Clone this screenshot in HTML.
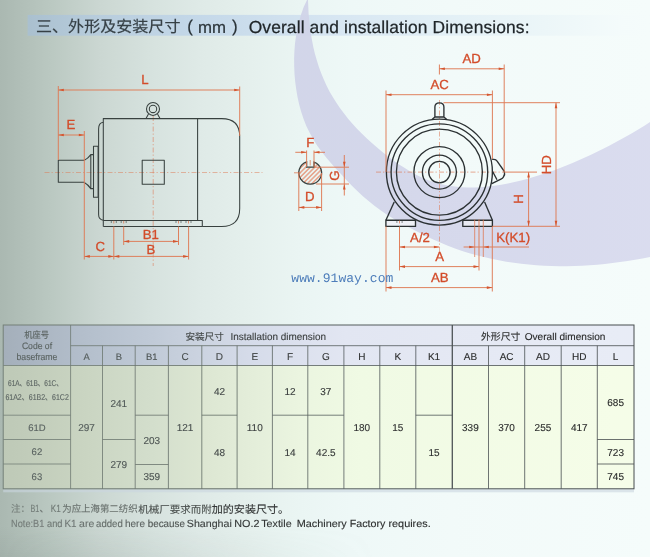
<!DOCTYPE html>
<html lang="zh"><head><meta charset="utf-8"><title>Overall and installation Dimensions</title>
<style>html,body{margin:0;padding:0;background:#e9f1f0}svg{display:block;opacity:0.999;filter:blur(0.4px)}text{text-rendering:geometricPrecision}</style></head>
<body>
<svg width="650" height="557" viewBox="0 0 650 557">
<defs>
<linearGradient id="bg" x1="0" y1="0" x2="650" y2="0" gradientUnits="userSpaceOnUse">
<stop offset="0.0000" stop-color="#aab8b1"/>
<stop offset="0.0769" stop-color="#bac8c1"/>
<stop offset="0.1538" stop-color="#cbd7d2"/>
<stop offset="0.2308" stop-color="#d6e2de"/>
<stop offset="0.3077" stop-color="#dfeae7"/>
<stop offset="0.3846" stop-color="#e5f0ed"/>
<stop offset="0.4615" stop-color="#eaf5f3"/>
<stop offset="0.5385" stop-color="#eef8f7"/>
<stop offset="0.6923" stop-color="#f2faf9"/>
<stop offset="1.0000" stop-color="#f5fcfb"/>
</linearGradient>
<linearGradient id="topl" x1="0" y1="0" x2="0" y2="1">
<stop offset="0" stop-color="#fff" stop-opacity="0.55"/>
<stop offset="1" stop-color="#fff" stop-opacity="0"/>
</linearGradient>
<linearGradient id="lmask" x1="0" y1="0" x2="1" y2="0">
<stop offset="0" stop-color="#fff" stop-opacity="1"/>
<stop offset="1" stop-color="#fff" stop-opacity="0"/>
</linearGradient>
<mask id="lm"><rect x="0" y="0" width="170" height="300" fill="url(#lmask)"/></mask>
<linearGradient id="lg" x1="0" y1="0" x2="650" y2="0" gradientUnits="userSpaceOnUse">
<stop offset="0" stop-color="#748078"/>
<stop offset="0.3" stop-color="#646e68"/>
<stop offset="0.6" stop-color="#4f5759"/>
<stop offset="1" stop-color="#454b4d"/>
</linearGradient>
<linearGradient id="bot" x1="0" y1="0" x2="0" y2="1">
<stop offset="0" stop-color="#7f8d8a" stop-opacity="0"/>
<stop offset="1" stop-color="#7f8d8a" stop-opacity="0.18"/>
</linearGradient>
<linearGradient id="botmask" x1="0" y1="0" x2="1" y2="0">
<stop offset="0" stop-color="#fff" stop-opacity="1"/>
<stop offset="0.22" stop-color="#fff" stop-opacity="0.6"/>
<stop offset="0.42" stop-color="#fff" stop-opacity="0.2"/>
<stop offset="0.58" stop-color="#fff" stop-opacity="0"/>
<stop offset="1" stop-color="#fff" stop-opacity="0"/>
</linearGradient>
<mask id="bm"><rect x="0" y="0" width="650" height="557" fill="url(#botmask)"/></mask>
<linearGradient id="band" x1="0" y1="0" x2="650" y2="0" gradientUnits="userSpaceOnUse">
<stop offset="0.0431" stop-color="#aac0cf"/>
<stop offset="0.1538" stop-color="#b8cddd"/>
<stop offset="0.2923" stop-color="#c3d7e8"/>
<stop offset="0.5154" stop-color="#d7e6f2"/>
<stop offset="0.6923" stop-color="#e3f0f6"/>
<stop offset="0.8385" stop-color="#ecf6f8"/>
<stop offset="0.9538" stop-color="#f4fbfb"/>
<stop offset="1.0000" stop-color="#f5fcfb"/>
</linearGradient>
<linearGradient id="sw" x1="0" y1="0" x2="1" y2="0">
<stop offset="0" stop-color="#d0d3e8"/>
<stop offset="1" stop-color="#d8daee"/>
</linearGradient>
<linearGradient id="hdr" x1="0" y1="0" x2="650" y2="0" gradientUnits="userSpaceOnUse">
<stop offset="0.0046" stop-color="#a4afba"/>
<stop offset="0.0292" stop-color="#a7b2be"/>
<stop offset="0.1338" stop-color="#b4bfcc"/>
<stop offset="0.2338" stop-color="#c0cad7"/>
<stop offset="0.3077" stop-color="#cbd3e0"/>
<stop offset="0.3923" stop-color="#d6dcea"/>
<stop offset="0.5308" stop-color="#e2e6f2"/>
<stop offset="0.9538" stop-color="#e8ecf6"/>
</linearGradient>
<linearGradient id="body" x1="0" y1="0" x2="650" y2="0" gradientUnits="userSpaceOnUse">
<stop offset="0.0046" stop-color="#bec9b7"/>
<stop offset="0.0308" stop-color="#c0cbb9"/>
<stop offset="0.1338" stop-color="#cad5c2"/>
<stop offset="0.2338" stop-color="#d3decc"/>
<stop offset="0.3077" stop-color="#dce6d2"/>
<stop offset="0.3908" stop-color="#e4eeda"/>
<stop offset="0.4615" stop-color="#ebf5e0"/>
<stop offset="0.5554" stop-color="#f0fae4"/>
<stop offset="0.9462" stop-color="#f5fde8"/>
</linearGradient>
<linearGradient id="tx" x1="0" y1="0" x2="650" y2="0" gradientUnits="userSpaceOnUse">
<stop offset="0" stop-color="#7d8582"/>
<stop offset="0.3" stop-color="#5a5f5e"/>
<stop offset="0.55" stop-color="#2c2e2e"/>
<stop offset="1" stop-color="#222"/>
</linearGradient>
<pattern id="hatch" width="3.2" height="3.2" patternUnits="userSpaceOnUse" patternTransform="rotate(-45)">
<line x1="0" y1="1.6" x2="3.2" y2="1.6" stroke="#e2572b" stroke-width="0.8"/>
</pattern>
</defs>
<rect width="650" height="557" fill="url(#bg)"/>
<rect x="0" y="527" width="650" height="30" fill="url(#bot)" mask="url(#bm)"/>
<rect x="27.6" y="14.9" width="622.4" height="20.8" fill="url(#band)"/>
<path d="M307.0,0.0 L303.7,6.9 L301.2,14.0 L299.1,21.2 L297.3,28.6 L296.0,36.0 L295.0,43.6 L294.4,51.2 L294.1,58.8 L294.2,66.4 L294.5,74.1 L295.2,81.7 L296.2,89.3 L297.5,96.9 L299.1,104.3 L301.1,111.6 L303.5,118.8 L306.2,125.8 L309.5,132.5 L313.1,139.0 L317.1,145.4 L321.5,151.5 L326.2,157.4 L331.1,163.3 L336.2,169.0 L341.4,174.6 L346.6,180.2 L351.9,185.7 L357.3,191.0 L362.9,196.2 L368.6,201.1 L374.4,205.8 L380.5,210.3 L386.7,214.5 L393.1,218.5 L399.7,222.4 L406.3,226.0 L413.1,229.6 L419.9,233.1 L426.8,236.5 L433.8,239.8 L440.8,242.8 L447.8,245.7 L455.0,248.4 L462.1,250.9 L469.4,253.2 L476.7,255.2 L484.0,257.1 L491.4,258.8 L498.8,260.3 L506.3,261.7 L513.8,262.8 L521.3,263.8 L528.8,264.6 L536.4,265.3 L544.0,265.7 L551.6,266.0 L559.2,266.2 L566.8,266.2 L574.4,266.0 L582.1,265.7 L589.7,265.3 L597.3,264.7 L604.9,264.0 L612.5,263.1 L620.0,262.1 L627.6,261.0 L635.1,259.7 L642.5,258.4 L650.0,257.0 L650.0,122.0 L644.4,125.8 L638.6,129.3 L632.8,132.7 L627.0,136.0 L621.1,139.3 L615.1,142.5 L609.2,145.7 L603.2,148.8 L597.1,151.8 L591.0,154.7 L584.9,157.6 L578.7,160.3 L572.5,163.0 L566.3,165.6 L560.0,168.0 L553.6,170.4 L547.2,172.6 L540.8,174.8 L534.3,176.8 L527.7,178.7 L521.2,180.4 L514.5,182.0 L507.9,183.5 L501.2,184.7 L494.4,185.8 L487.7,186.6 L481.0,187.2 L474.3,187.5 L467.7,187.5 L461.1,187.2 L454.5,186.6 L448.0,185.6 L441.5,184.3 L435.2,182.6 L428.9,180.4 L422.7,177.9 L416.6,174.9 L410.7,171.7 L404.8,168.1 L399.1,164.4 L393.4,160.4 L387.9,156.2 L382.4,151.9 L377.1,147.5 L371.9,143.0 L366.9,138.4 L362.0,133.7 L357.2,128.9 L352.7,123.9 L348.3,118.9 L344.1,113.6 L340.1,108.3 L336.4,102.8 L332.8,97.1 L329.5,91.4 L326.5,85.4 L323.7,79.3 L321.1,73.0 L318.8,66.7 L316.8,60.2 L314.9,53.7 L313.3,47.0 L312.0,40.3 L310.8,33.6 L309.9,26.9 L309.2,20.1 L308.6,13.4 L308.3,6.7 L308.0,0.0 Z" fill="url(#sw)" opacity="0.93"/>
<text transform="translate(36,32) scale(1.0162,1)" font-size="15.8" fill="#364046" stroke="#364046" stroke-width="0.2" font-family='"Liberation Sans", "Noto Sans CJK SC", sans-serif'>三、外形及安装尺寸</text>
<text x="187.3" y="32.3" font-size="17" fill="#2a3338" stroke="#2a3338" stroke-width="0.2" font-family='"Liberation Sans", "Noto Sans CJK SC", sans-serif'>(</text>
<text x="198" y="32.5" font-size="16.8" fill="#2a3338" stroke="#2a3338" stroke-width="0.2" font-family='"Liberation Sans", "Noto Sans CJK SC", sans-serif'>mm</text>
<text x="232" y="32.3" font-size="17" fill="#2a3338" stroke="#2a3338" stroke-width="0.2" font-family='"Liberation Sans", "Noto Sans CJK SC", sans-serif'>)</text>
<text x="248.7" y="32.5" font-size="17.4" fill="#1f2528" stroke="#1f2528" stroke-width="0.25" font-family='"Liberation Sans", "Noto Sans CJK SC", sans-serif' textLength="280.8" lengthAdjust="spacing">Overall and installation Dimensions:</text>
<line x1="44.5" y1="172.6" x2="262.5" y2="172.6" stroke="#de7a55" stroke-width="0.7" stroke-dasharray="5 2 1.3 2.2" opacity="0.8"/>
<line x1="153.2" y1="116" x2="153.2" y2="266" stroke="#de7a55" stroke-width="0.7" stroke-dasharray="5 2 1.3 2.2" opacity="0.8"/>
<g fill="none" stroke="#38413f" stroke-width="1.05" stroke-linejoin="round">
<path d="M84.3,160.3 H58.3 V182.3 H84.3"/>
<path d="M84.3,160.3 Q88,158.5 90.8,154.6 V188.6 Q88,184.5 84.3,182.5"/>
<path d="M90.8,154.6 H93.5 M90.8,188.6 H93.5"/>
<rect x="93.5" y="146.2" width="4.6" height="51"/>
<path d="M103.3,122.3 Q98.6,122.8 98.6,129 V214.5 Q98.6,219.6 103.3,220.2"/>
<path d="M103.3,226.5 V118.6 H221.7 Q239.7,118.6 239.7,136.6 V208.5 Q239.7,226.5 221.7,226.5 H202.3"/>
<path d="M197.6,118.6 V220.4"/>
<path d="M103.3,220.4 H202.3 V226.5 H103.3"/>
<rect x="142.2" y="160.3" width="22.1" height="24"/>
<circle cx="153" cy="108.9" r="6.5"/><circle cx="153" cy="108.9" r="3.7"/>
<path d="M148.5,114 L146,118.6 M157.5,114 L160,118.6"/>
</g>
<line x1="113.8" y1="220.8" x2="113.8" y2="223.5" stroke="#de7a55" stroke-width="0.8" />
<line x1="111.3" y1="221" x2="111.3" y2="223" stroke="#38413f" stroke-width="0.6" />
<line x1="116.3" y1="221" x2="116.3" y2="223" stroke="#38413f" stroke-width="0.6" />
<line x1="123.7" y1="220.8" x2="123.7" y2="223.5" stroke="#de7a55" stroke-width="0.8" />
<line x1="121.2" y1="221" x2="121.2" y2="223" stroke="#38413f" stroke-width="0.6" />
<line x1="126.2" y1="221" x2="126.2" y2="223" stroke="#38413f" stroke-width="0.6" />
<line x1="178.5" y1="220.8" x2="178.5" y2="223.5" stroke="#de7a55" stroke-width="0.8" />
<line x1="176.0" y1="221" x2="176.0" y2="223" stroke="#38413f" stroke-width="0.6" />
<line x1="181.0" y1="221" x2="181.0" y2="223" stroke="#38413f" stroke-width="0.6" />
<line x1="188.5" y1="220.8" x2="188.5" y2="223.5" stroke="#de7a55" stroke-width="0.8" />
<line x1="186.0" y1="221" x2="186.0" y2="223" stroke="#38413f" stroke-width="0.6" />
<line x1="191.0" y1="221" x2="191.0" y2="223" stroke="#38413f" stroke-width="0.6" />
<line x1="58.3" y1="86" x2="58.3" y2="160" stroke="#de7a55" stroke-width="0.95" />
<line x1="239.7" y1="86.5" x2="239.7" y2="136" stroke="#de7a55" stroke-width="0.95" />
<line x1="58.3" y1="90" x2="239.7" y2="90" stroke="#de7a55" stroke-width="0.95" />
<polygon points="58.3,90.0 63.8,88.7 63.8,91.3" fill="#d4552f"/>
<polygon points="239.7,90.0 234.2,88.7 234.2,91.3" fill="#d4552f"/>
<text x="145" y="84.2" font-size="13.2" fill="#d34c2a" stroke="#d34c2a" stroke-width="0.3" text-anchor="middle" font-family='"Liberation Sans", sans-serif' >L</text>
<line x1="84.3" y1="131" x2="84.3" y2="259.5" stroke="#de7a55" stroke-width="0.95" />
<line x1="58.3" y1="135" x2="84.3" y2="135" stroke="#de7a55" stroke-width="0.95" />
<polygon points="58.3,135.0 63.8,133.7 63.8,136.3" fill="#d4552f"/>
<polygon points="84.3,135.0 78.8,133.7 78.8,136.3" fill="#d4552f"/>
<text x="70.8" y="129.1" font-size="13.2" fill="#d34c2a" stroke="#d34c2a" stroke-width="0.3" text-anchor="middle" font-family='"Liberation Sans", sans-serif' >E</text>
<line x1="113.8" y1="226.5" x2="113.8" y2="259.5" stroke="#de7a55" stroke-width="0.95" />
<line x1="188.6" y1="226.5" x2="188.6" y2="259.5" stroke="#de7a55" stroke-width="0.95" />
<line x1="123.7" y1="226.5" x2="123.7" y2="245" stroke="#de7a55" stroke-width="0.95" />
<line x1="178.5" y1="226.5" x2="178.5" y2="245" stroke="#de7a55" stroke-width="0.95" />
<line x1="123.7" y1="241.4" x2="178.5" y2="241.4" stroke="#de7a55" stroke-width="0.95" />
<polygon points="123.7,241.4 129.2,240.1 129.2,242.7" fill="#d4552f"/>
<polygon points="178.5,241.4 173.0,240.1 173.0,242.7" fill="#d4552f"/>
<text x="150.8" y="239.0" font-size="13.2" fill="#d34c2a" stroke="#d34c2a" stroke-width="0.3" text-anchor="middle" font-family='"Liberation Sans", sans-serif' >B1</text>
<line x1="113.8" y1="256.4" x2="188.6" y2="256.4" stroke="#de7a55" stroke-width="0.95" />
<polygon points="113.8,256.4 119.3,255.1 119.3,257.7" fill="#d4552f"/>
<polygon points="188.6,256.4 183.1,255.1 183.1,257.7" fill="#d4552f"/>
<text x="150.8" y="254.4" font-size="13.2" fill="#d34c2a" stroke="#d34c2a" stroke-width="0.3" text-anchor="middle" font-family='"Liberation Sans", sans-serif' >B</text>
<line x1="84.3" y1="256.4" x2="113.8" y2="256.4" stroke="#de7a55" stroke-width="0.95" />
<polygon points="84.3,256.4 89.8,255.1 89.8,257.7" fill="#d4552f"/>
<polygon points="113.8,256.4 108.3,255.1 108.3,257.7" fill="#d4552f"/>
<text x="100.3" y="250.7" font-size="13.2" fill="#d34c2a" stroke="#d34c2a" stroke-width="0.3" text-anchor="middle" font-family='"Liberation Sans", sans-serif' >C</text>
<path d="M306.6,161.98 V167.2 H314.0 V162.05 A11.4,11.4 0 1 1 306.6,161.98 Z" fill="url(#hatch)" stroke="none"/>
<path d="M306.6,161.98 V167.2 H314.0 V162.05 A11.4,11.4 0 1 1 306.6,161.98 Z" fill="none" stroke="#38413f" stroke-width="1.3"/>
<line x1="294" y1="172.8" x2="300.5" y2="172.8" stroke="#de7a55" stroke-width="0.8" />
<line x1="310.2" y1="160" x2="310.2" y2="165.5" stroke="#de7a55" stroke-width="0.8" />
<line x1="306.6" y1="150.5" x2="306.6" y2="167" stroke="#de7a55" stroke-width="0.95" />
<line x1="314.0" y1="150.5" x2="314.0" y2="167" stroke="#de7a55" stroke-width="0.95" />
<line x1="295.3" y1="152.3" x2="306.6" y2="152.3" stroke="#de7a55" stroke-width="0.95" />
<polygon points="306.6,152.3 301.1,151.0 301.1,153.6" fill="#d4552f"/>
<line x1="314.0" y1="152.3" x2="325" y2="152.3" stroke="#de7a55" stroke-width="0.95" />
<polygon points="314.0,152.3 319.5,151.0 319.5,153.6" fill="#d4552f"/>
<text x="310.2" y="146.8" font-size="13.2" fill="#d34c2a" stroke="#d34c2a" stroke-width="0.3" text-anchor="middle" font-family='"Liberation Sans", sans-serif' >F</text>
<line x1="344.3" y1="155" x2="344.3" y2="195.5" stroke="#de7a55" stroke-width="0.95" />
<polygon points="344.3,167.2 343.0,161.7 345.6,161.7" fill="#d4552f"/>
<polygon points="344.3,184.0 343.0,189.5 345.6,189.5" fill="#d4552f"/>
<line x1="314" y1="167.2" x2="349" y2="167.2" stroke="#de7a55" stroke-width="0.95" />
<line x1="316" y1="184" x2="349" y2="184" stroke="#de7a55" stroke-width="0.95" />
<text transform="translate(338.8,175.6) rotate(-90)" font-size="13.2" fill="#d34c2a" stroke="#d34c2a" stroke-width="0.3" text-anchor="middle" font-family='"Liberation Sans", sans-serif'>G</text>
<line x1="298.8" y1="173" x2="298.8" y2="211" stroke="#de7a55" stroke-width="0.95" />
<line x1="321.6" y1="173" x2="321.6" y2="211" stroke="#de7a55" stroke-width="0.95" />
<line x1="298.8" y1="207.4" x2="321.6" y2="207.4" stroke="#de7a55" stroke-width="0.95" />
<polygon points="298.8,207.4 304.3,206.1 304.3,208.7" fill="#d4552f"/>
<polygon points="321.6,207.4 316.1,206.1 316.1,208.7" fill="#d4552f"/>
<text x="309.8" y="201" font-size="13.2" fill="#d34c2a" stroke="#d34c2a" stroke-width="0.3" text-anchor="middle" font-family='"Liberation Sans", sans-serif' >D</text>
<line x1="376" y1="172.1" x2="504" y2="172.1" stroke="#de7a55" stroke-width="0.8" stroke-dasharray="5 2 1.3 2.2" opacity="0.8"/>
<line x1="439.4" y1="100" x2="439.4" y2="253" stroke="#de7a55" stroke-width="0.8" stroke-dasharray="5 2 1.3 2.2" opacity="0.8"/>
<g fill="none" stroke="#2b3133" stroke-width="1.35" stroke-linejoin="round">
<circle cx="439.4" cy="172.1" r="53"/>
<circle cx="439.4" cy="172.1" r="48.3"/>
<circle cx="439.4" cy="172.1" r="43"/>
<circle cx="439.4" cy="172.1" r="25.5"/>
<circle cx="439.4" cy="172.1" r="17"/>
<circle cx="439.4" cy="172.1" r="10.7"/>
<path d="M434.9,117 V107 Q434.9,102.8 439.4,102.8 Q443.9,102.8 443.9,107 V117 M434.9,117 L432,119.6 M443.9,117 L446.8,119.6 M434.9,117 H443.9"/>
<path d="M491.9,159.2 L495.2,159.6 Q496.4,160 497.1,161.2 L504.4,171.5 Q505.3,174.6 503.2,177.4 Q502.5,178.3 501.4,178.8 L491.8,183.6"/>
<path d="M492.6,171.5 L497,179.8"/>
<rect x="385.9" y="220.2" width="29.6" height="6.2" fill="#eef0f6"/><rect x="462.8" y="220.2" width="29.6" height="6.2" fill="#e9ebf3"/>
<path d="M394.2,202 L385.9,220.2"/>
<path d="M484.6,202 L492.4,220.2"/>
</g>
<line x1="399.5" y1="220.6" x2="399.5" y2="223.4" stroke="#de7a55" stroke-width="0.8" />
<line x1="396.9" y1="221" x2="396.9" y2="223" stroke="#38413f" stroke-width="0.6" />
<line x1="402.1" y1="221" x2="402.1" y2="223" stroke="#38413f" stroke-width="0.6" />
<line x1="439.4" y1="64.5" x2="439.4" y2="74.5" stroke="#de7a55" stroke-width="0.95" />
<line x1="504.2" y1="64.5" x2="504.2" y2="172" stroke="#de7a55" stroke-width="0.95" />
<line x1="439.4" y1="68.8" x2="504.2" y2="68.8" stroke="#de7a55" stroke-width="0.95" />
<polygon points="439.4,68.8 444.9,67.5 444.9,70.1" fill="#d4552f"/>
<polygon points="504.2,68.8 498.7,67.5 498.7,70.1" fill="#d4552f"/>
<text x="471.7" y="62.9" font-size="13.2" fill="#d34c2a" stroke="#d34c2a" stroke-width="0.3" text-anchor="middle" font-family='"Liberation Sans", sans-serif' >AD</text>
<line x1="386" y1="90.5" x2="386" y2="172" stroke="#de7a55" stroke-width="0.95" />
<line x1="492.4" y1="90.5" x2="492.4" y2="159" stroke="#de7a55" stroke-width="0.95" />
<line x1="386" y1="94.7" x2="492.4" y2="94.7" stroke="#de7a55" stroke-width="0.95" />
<polygon points="386.0,94.7 391.5,93.4 391.5,96.0" fill="#d4552f"/>
<polygon points="492.4,94.7 486.9,93.4 486.9,96.0" fill="#d4552f"/>
<text x="439.7" y="88.7" font-size="13.2" fill="#d34c2a" stroke="#d34c2a" stroke-width="0.3" text-anchor="middle" font-family='"Liberation Sans", sans-serif' >AC</text>
<line x1="443.5" y1="102.7" x2="560" y2="102.7" stroke="#de7a55" stroke-width="0.95" />
<line x1="492.3" y1="226.3" x2="560" y2="226.3" stroke="#de7a55" stroke-width="0.95" />
<line x1="556" y1="102.7" x2="556" y2="226.3" stroke="#de7a55" stroke-width="0.95" />
<polygon points="556.0,102.7 554.7,108.2 557.3,108.2" fill="#d4552f"/>
<polygon points="556.0,226.3 554.7,220.8 557.3,220.8" fill="#d4552f"/>
<text transform="translate(550.7,164.7) rotate(-90)" font-size="13.2" fill="#d34c2a" stroke="#d34c2a" stroke-width="0.3" text-anchor="middle" font-family='"Liberation Sans", sans-serif'>HD</text>
<line x1="504.2" y1="172.1" x2="537" y2="172.1" stroke="#de7a55" stroke-width="0.95" />
<line x1="528.6" y1="172.1" x2="528.6" y2="226.3" stroke="#de7a55" stroke-width="0.95" />
<polygon points="528.6,172.1 527.3,177.6 529.9,177.6" fill="#d4552f"/>
<polygon points="528.6,226.3 527.3,220.8 529.9,220.8" fill="#d4552f"/>
<text transform="translate(523,199) rotate(-90)" font-size="13.2" fill="#d34c2a" stroke="#d34c2a" stroke-width="0.3" text-anchor="middle" font-family='"Liberation Sans", sans-serif'>H</text>
<line x1="386" y1="226.4" x2="386" y2="291.5" stroke="#de7a55" stroke-width="0.95" />
<line x1="492.3" y1="226.4" x2="492.3" y2="291.5" stroke="#de7a55" stroke-width="0.95" />
<line x1="386" y1="287.6" x2="492.3" y2="287.6" stroke="#de7a55" stroke-width="0.95" />
<polygon points="386.0,287.6 391.5,286.3 391.5,288.9" fill="#d4552f"/>
<polygon points="492.3,287.6 486.8,286.3 486.8,288.9" fill="#d4552f"/>
<text x="439.7" y="281.9" font-size="13.2" fill="#d34c2a" stroke="#d34c2a" stroke-width="0.3" text-anchor="middle" font-family='"Liberation Sans", sans-serif' >AB</text>
<line x1="399.5" y1="226.4" x2="399.5" y2="270.5" stroke="#de7a55" stroke-width="0.95" />
<line x1="479" y1="219.5" x2="479" y2="270.5" stroke="#de7a55" stroke-width="0.95" />
<line x1="399.5" y1="266.6" x2="479" y2="266.6" stroke="#de7a55" stroke-width="0.95" />
<polygon points="399.5,266.6 405.0,265.3 405.0,267.9" fill="#d4552f"/>
<polygon points="479.0,266.6 473.5,265.3 473.5,267.9" fill="#d4552f"/>
<text x="439.7" y="261.4" font-size="13.2" fill="#d34c2a" stroke="#d34c2a" stroke-width="0.3" text-anchor="middle" font-family='"Liberation Sans", sans-serif' >A</text>
<line x1="399.5" y1="247" x2="439.4" y2="247" stroke="#de7a55" stroke-width="0.95" />
<polygon points="399.5,247.0 405.0,245.7 405.0,248.3" fill="#d4552f"/>
<polygon points="439.4,247.0 433.9,245.7 433.9,248.3" fill="#d4552f"/>
<text x="420" y="241.7" font-size="13.2" fill="#d34c2a" stroke="#d34c2a" stroke-width="0.3" text-anchor="middle" font-family='"Liberation Sans", sans-serif' >A/2</text>
<line x1="474.7" y1="219.5" x2="474.7" y2="257" stroke="#de7a55" stroke-width="0.8" />
<line x1="483.3" y1="219.5" x2="483.3" y2="257" stroke="#de7a55" stroke-width="0.8" />
<line x1="463.6" y1="247" x2="529" y2="247" stroke="#de7a55" stroke-width="0.95" />
<polygon points="474.7,247.0 469.2,245.7 469.2,248.3" fill="#d4552f"/>
<polygon points="483.3,247.0 488.8,245.7 488.8,248.3" fill="#d4552f"/>
<text x="496.2" y="241.7" font-size="13.3" fill="#d34c2a" stroke="#d34c2a" stroke-width="0.3" text-anchor="start" font-family='"Liberation Sans", sans-serif' >K(K1)</text>
<text x="291.3" y="281.5" font-size="13" fill="#4d7dba" font-family='"Liberation Mono", monospace' textLength="102" lengthAdjust="spacing">www.91way.com</text>
<rect x="3.2" y="325" width="630.8" height="40.5" fill="url(#hdr)"/>
<rect x="3.2" y="365.5" width="630.8" height="123.30000000000001" fill="url(#body)"/>
<rect x="3.2" y="489.3" width="630.8" height="3" fill="#c9d6e0" opacity="0.6"/>
<rect x="3.2" y="325" width="630.8" height="163.8" fill="none" stroke="url(#lg)" stroke-width="1"/>
<line x1="3.2" y1="365.501" x2="634" y2="365.5" stroke="url(#lg)" stroke-width="0.8" />
<line x1="70.6" y1="345.70099999999996" x2="634" y2="345.7" stroke="url(#lg)" stroke-width="0.8" />
<line x1="70.6" y1="325" x2="70.6" y2="488.8" stroke="#6e7972" stroke-width="0.8" />
<line x1="102.5" y1="345.7" x2="102.5" y2="488.8" stroke="#6c7770" stroke-width="0.8" />
<line x1="135.2" y1="345.7" x2="135.2" y2="488.8" stroke="#69746d" stroke-width="0.8" />
<line x1="168.4" y1="345.7" x2="168.4" y2="488.8" stroke="#66706a" stroke-width="0.8" />
<line x1="201.8" y1="345.7" x2="201.8" y2="488.8" stroke="#636d67" stroke-width="0.8" />
<line x1="237.1" y1="345.7" x2="237.1" y2="488.8" stroke="#5f6965" stroke-width="0.8" />
<line x1="272.4" y1="345.7" x2="272.4" y2="488.8" stroke="#5c6562" stroke-width="0.8" />
<line x1="307.8" y1="345.7" x2="307.8" y2="488.8" stroke="#58615f" stroke-width="0.8" />
<line x1="343.9" y1="345.7" x2="343.9" y2="488.8" stroke="#545c5d" stroke-width="0.8" />
<line x1="379.8" y1="345.7" x2="379.8" y2="488.8" stroke="#50585a" stroke-width="0.8" />
<line x1="415.8" y1="345.7" x2="415.8" y2="488.8" stroke="#4e5658" stroke-width="0.8" />
<line x1="452.3" y1="325" x2="452.3" y2="488.8" stroke="#4d5456" stroke-width="1.3" />
<line x1="488.5" y1="345.7" x2="488.5" y2="488.8" stroke="#4b5254" stroke-width="0.8" />
<line x1="524.7" y1="345.7" x2="524.7" y2="488.8" stroke="#4a5153" stroke-width="0.8" />
<line x1="561.2" y1="345.7" x2="561.2" y2="488.8" stroke="#484f51" stroke-width="0.8" />
<line x1="597.3" y1="345.7" x2="597.3" y2="488.8" stroke="#474d4f" stroke-width="0.8" />
<line x1="3.2" y1="415.20099999999996" x2="70.6" y2="415.2" stroke="url(#lg)" stroke-width="0.8" />
<line x1="3.2" y1="439.501" x2="70.6" y2="439.5" stroke="url(#lg)" stroke-width="0.8" />
<line x1="3.2" y1="464.001" x2="70.6" y2="464" stroke="url(#lg)" stroke-width="0.8" />
<line x1="102.5" y1="439.5" x2="135.2" y2="439.5" stroke="#6c7770" stroke-width="0.8" />
<line x1="135.2" y1="415.2" x2="168.4" y2="415.2" stroke="#69746d" stroke-width="0.8" />
<line x1="135.2" y1="464.5" x2="168.4" y2="464.5" stroke="#69746d" stroke-width="0.8" />
<line x1="201.8" y1="415.2" x2="237.1" y2="415.2" stroke="#636d67" stroke-width="0.8" />
<line x1="272.4" y1="415.20099999999996" x2="343.9" y2="415.2" stroke="url(#lg)" stroke-width="0.8" />
<line x1="415.8" y1="415.2" x2="452.3" y2="415.2" stroke="#4e5658" stroke-width="0.8" />
<line x1="597.3" y1="439.5" x2="634" y2="439.5" stroke="#474d4f" stroke-width="0.8" />
<line x1="597.3" y1="464" x2="634" y2="464" stroke="#474d4f" stroke-width="0.8" />
<text transform="translate(24.2,337.6) scale(0.9185,1)" font-size="9" fill="#5a6361" stroke="#5a6361" stroke-width="0.12" text-anchor="start" font-family='"Liberation Sans", "Noto Sans CJK SC", sans-serif'>机座号</text>
<text transform="translate(21.9,349.0) scale(0.9173,1)" font-size="9.4" fill="#5a6361" stroke="#5a6361" stroke-width="0.12" text-anchor="start" font-family='"Liberation Sans", sans-serif'>Code of</text>
<text transform="translate(16.5,359.8) scale(0.9232,1)" font-size="9.4" fill="#5a6361" stroke="#5a6361" stroke-width="0.12" text-anchor="start" font-family='"Liberation Sans", sans-serif'>baseframe</text>
<text transform="translate(185.4,339.6) scale(1.0000,1)" font-size="9.6" fill="#454a4a" stroke="#454a4a" stroke-width="0.12" text-anchor="start" font-family='"Liberation Sans", "Noto Sans CJK SC", sans-serif'>安装尺寸</text>
<text transform="translate(230.5,339.6) scale(0.9930,1)" font-size="10" fill="#3b3f3f" stroke="#3b3f3f" stroke-width="0.12" text-anchor="start" font-family='"Liberation Sans", sans-serif'>Installation dimension</text>
<text transform="translate(481,339.5) scale(1.0077,1)" font-size="9.8" fill="#2b2d2d" stroke="#2b2d2d" stroke-width="0.12" text-anchor="start" font-family='"Liberation Sans", "Noto Sans CJK SC", sans-serif'>外形尺寸</text>
<text transform="translate(524.7,339.5) scale(1.0083,1)" font-size="10" fill="#292a2a" stroke="#292a2a" stroke-width="0.12" text-anchor="start" font-family='"Liberation Sans", sans-serif'>Overall dimension</text>
<text x="86.55" y="359.6" font-size="9.4" fill="#545d5b" stroke="#545d5b" stroke-width="0.12" text-anchor="middle" font-family='"Liberation Sans", sans-serif' >A</text>
<text x="118.85" y="359.6" font-size="9.4" fill="#505857" stroke="#505857" stroke-width="0.12" text-anchor="middle" font-family='"Liberation Sans", sans-serif' >B</text>
<text x="151.8" y="359.6" font-size="9.4" fill="#4c5352" stroke="#4c5352" stroke-width="0.12" text-anchor="middle" font-family='"Liberation Sans", sans-serif' >B1</text>
<text x="185.10000000000002" y="359.6" font-size="10" fill="#474e4d" stroke="#474e4d" stroke-width="0.12" text-anchor="middle" font-family='"Liberation Sans", sans-serif' >C</text>
<text x="219.45" y="359.6" font-size="10" fill="#434848" stroke="#434848" stroke-width="0.12" text-anchor="middle" font-family='"Liberation Sans", sans-serif' >D</text>
<text x="254.75" y="359.6" font-size="10" fill="#3e4242" stroke="#3e4242" stroke-width="0.12" text-anchor="middle" font-family='"Liberation Sans", sans-serif' >E</text>
<text x="290.1" y="359.6" font-size="10" fill="#393d3d" stroke="#393d3d" stroke-width="0.12" text-anchor="middle" font-family='"Liberation Sans", sans-serif' >F</text>
<text x="325.85" y="359.6" font-size="10" fill="#343737" stroke="#343737" stroke-width="0.12" text-anchor="middle" font-family='"Liberation Sans", sans-serif' >G</text>
<text x="361.85" y="359.6" font-size="10" fill="#303232" stroke="#303232" stroke-width="0.12" text-anchor="middle" font-family='"Liberation Sans", sans-serif' >H</text>
<text x="397.8" y="359.6" font-size="10" fill="#2f3030" stroke="#2f3030" stroke-width="0.12" text-anchor="middle" font-family='"Liberation Sans", sans-serif' >K</text>
<text x="434.05" y="359.6" font-size="10" fill="#2d2f2f" stroke="#2d2f2f" stroke-width="0.12" text-anchor="middle" font-family='"Liberation Sans", sans-serif' >K1</text>
<text x="470.4" y="359.6" font-size="10" fill="#2c2e2e" stroke="#2c2e2e" stroke-width="0.12" text-anchor="middle" font-family='"Liberation Sans", sans-serif' >AB</text>
<text x="506.6" y="359.6" font-size="10" fill="#2b2c2c" stroke="#2b2c2c" stroke-width="0.12" text-anchor="middle" font-family='"Liberation Sans", sans-serif' >AC</text>
<text x="542.95" y="359.6" font-size="10" fill="#2a2b2b" stroke="#2a2b2b" stroke-width="0.12" text-anchor="middle" font-family='"Liberation Sans", sans-serif' >AD</text>
<text x="579.25" y="359.6" font-size="10" fill="#282a2a" stroke="#282a2a" stroke-width="0.12" text-anchor="middle" font-family='"Liberation Sans", sans-serif' >HD</text>
<text x="615.65" y="359.6" font-size="10" fill="#272828" stroke="#272828" stroke-width="0.12" text-anchor="middle" font-family='"Liberation Sans", sans-serif' >L</text>
<text transform="translate(8,386) scale(0.7801,1)" font-size="8.4" fill="#5a6361" stroke="#5a6361" stroke-width="0.12" text-anchor="start" font-family='"Liberation Sans", "Noto Sans CJK SC", sans-serif'>61A、61B、61C、</text>
<text transform="translate(5.4,399.8) scale(0.8355,1)" font-size="8.4" fill="#5a6361" stroke="#5a6361" stroke-width="0.12" text-anchor="start" font-family='"Liberation Sans", "Noto Sans CJK SC", sans-serif'>61A2、61B2、61C2</text>
<text x="36.9" y="430.8" font-size="9.5" fill="#5a6361" stroke="#5a6361" stroke-width="0.12" text-anchor="middle" font-family='"Liberation Sans", sans-serif' >61D</text>
<text x="36.9" y="455.3" font-size="9.5" fill="#5a6361" stroke="#5a6361" stroke-width="0.12" text-anchor="middle" font-family='"Liberation Sans", sans-serif' >62</text>
<text x="36.9" y="480" font-size="9.5" fill="#5a6361" stroke="#5a6361" stroke-width="0.12" text-anchor="middle" font-family='"Liberation Sans", sans-serif' >63</text>
<text x="86.55" y="431.3" font-size="10" fill="#545d5b" stroke="#545d5b" stroke-width="0.12" text-anchor="middle" font-family='"Liberation Sans", sans-serif' >297</text>
<text x="118.85" y="406.5" font-size="10" fill="#505857" stroke="#505857" stroke-width="0.12" text-anchor="middle" font-family='"Liberation Sans", sans-serif' >241</text>
<text x="118.85" y="468" font-size="10" fill="#505857" stroke="#505857" stroke-width="0.12" text-anchor="middle" font-family='"Liberation Sans", sans-serif' >279</text>
<text x="151.8" y="443.5" font-size="10" fill="#4c5352" stroke="#4c5352" stroke-width="0.12" text-anchor="middle" font-family='"Liberation Sans", sans-serif' >203</text>
<text x="151.8" y="480" font-size="10" fill="#4c5352" stroke="#4c5352" stroke-width="0.12" text-anchor="middle" font-family='"Liberation Sans", sans-serif' >359</text>
<text x="185.10000000000002" y="431.3" font-size="10" fill="#474e4d" stroke="#474e4d" stroke-width="0.12" text-anchor="middle" font-family='"Liberation Sans", sans-serif' >121</text>
<text x="219.45" y="394.5" font-size="10" fill="#434848" stroke="#434848" stroke-width="0.12" text-anchor="middle" font-family='"Liberation Sans", sans-serif' >42</text>
<text x="219.45" y="456" font-size="10" fill="#434848" stroke="#434848" stroke-width="0.12" text-anchor="middle" font-family='"Liberation Sans", sans-serif' >48</text>
<text x="254.75" y="431.3" font-size="10" fill="#3e4242" stroke="#3e4242" stroke-width="0.12" text-anchor="middle" font-family='"Liberation Sans", sans-serif' >110</text>
<text x="290.1" y="394.5" font-size="10" fill="#393d3d" stroke="#393d3d" stroke-width="0.12" text-anchor="middle" font-family='"Liberation Sans", sans-serif' >12</text>
<text x="290.1" y="456" font-size="10" fill="#393d3d" stroke="#393d3d" stroke-width="0.12" text-anchor="middle" font-family='"Liberation Sans", sans-serif' >14</text>
<text x="325.85" y="394.5" font-size="10" fill="#343737" stroke="#343737" stroke-width="0.12" text-anchor="middle" font-family='"Liberation Sans", sans-serif' >37</text>
<text x="325.85" y="456" font-size="10" fill="#343737" stroke="#343737" stroke-width="0.12" text-anchor="middle" font-family='"Liberation Sans", sans-serif' >42.5</text>
<text x="361.85" y="431.3" font-size="10" fill="#303232" stroke="#303232" stroke-width="0.12" text-anchor="middle" font-family='"Liberation Sans", sans-serif' >180</text>
<text x="397.8" y="431.3" font-size="10" fill="#2f3030" stroke="#2f3030" stroke-width="0.12" text-anchor="middle" font-family='"Liberation Sans", sans-serif' >15</text>
<text x="434.05" y="456" font-size="10" fill="#2d2f2f" stroke="#2d2f2f" stroke-width="0.12" text-anchor="middle" font-family='"Liberation Sans", sans-serif' >15</text>
<text x="470.4" y="431.3" font-size="10" fill="#2c2e2e" stroke="#2c2e2e" stroke-width="0.12" text-anchor="middle" font-family='"Liberation Sans", sans-serif' >339</text>
<text x="506.6" y="431.3" font-size="10" fill="#2b2c2c" stroke="#2b2c2c" stroke-width="0.12" text-anchor="middle" font-family='"Liberation Sans", sans-serif' >370</text>
<text x="542.95" y="431.3" font-size="10" fill="#2a2b2b" stroke="#2a2b2b" stroke-width="0.12" text-anchor="middle" font-family='"Liberation Sans", sans-serif' >255</text>
<text x="579.25" y="431.3" font-size="10" fill="#282a2a" stroke="#282a2a" stroke-width="0.12" text-anchor="middle" font-family='"Liberation Sans", sans-serif' >417</text>
<text x="615.65" y="406" font-size="10" fill="#272828" stroke="#272828" stroke-width="0.12" text-anchor="middle" font-family='"Liberation Sans", sans-serif' >685</text>
<text x="615.65" y="455.5" font-size="10" fill="#272828" stroke="#272828" stroke-width="0.12" text-anchor="middle" font-family='"Liberation Sans", sans-serif' >723</text>
<text x="615.65" y="480" font-size="10" fill="#272828" stroke="#272828" stroke-width="0.12" text-anchor="middle" font-family='"Liberation Sans", sans-serif' >745</text>
<text transform="translate(11,512.4) scale(0.9896,1)" font-size="9.6" fill="#757e7a" stroke="#757e7a" stroke-width="0.12" text-anchor="start" font-family='"Liberation Sans", "Noto Sans CJK SC", sans-serif'>注：</text>
<text transform="translate(30.4,512.4) scale(0.6787,1)" font-size="10.6" fill="#727b77" stroke="#727b77" stroke-width="0.12" text-anchor="start" font-family='"Liberation Sans", "Noto Sans CJK SC", sans-serif'>B1</text>
<text transform="translate(39.6,512.4) scale(0.9792,1)" font-size="9.6" fill="#717976" stroke="#717976" stroke-width="0.12" text-anchor="start" font-family='"Liberation Sans", "Noto Sans CJK SC", sans-serif'>、</text>
<text transform="translate(50.8,512.4) scale(0.7713,1)" font-size="10.6" fill="#6f7874" stroke="#6f7874" stroke-width="0.12" text-anchor="start" font-family='"Liberation Sans", "Noto Sans CJK SC", sans-serif'>K1</text>
<text transform="translate(62.3,512.4) scale(0.9805,1)" font-size="9.6" fill="#68706d" stroke="#68706d" stroke-width="0.12" text-anchor="start" font-family='"Liberation Sans", "Noto Sans CJK SC", sans-serif'>为应上海第二纺织</text>
<text transform="translate(138.3,512.6) scale(1.0294,1)" font-size="10.2" fill="#4b514f" stroke="#4b514f" stroke-width="0.12" text-anchor="start" font-family='"Liberation Sans", "Noto Sans CJK SC", sans-serif'>机械厂要求而附</text>
<text transform="translate(211.8,512.8) scale(1.0418,1)" font-size="10.6" fill="#333636" stroke="#333636" stroke-width="0.12" text-anchor="start" font-family='"Liberation Sans", "Noto Sans CJK SC", sans-serif'>加的安装尺寸。</text>
<text transform="translate(11.1,526.8) scale(0.8921,1)" font-size="10.3" fill="#747c79" stroke="#747c79" stroke-width="0.12" text-anchor="start" font-family='"Liberation Sans", sans-serif'>Note:B1</text>
<text transform="translate(47.0,526.8) scale(0.8961,1)" font-size="10.3" fill="#6f7874" stroke="#6f7874" stroke-width="0.12" text-anchor="start" font-family='"Liberation Sans", sans-serif'>and</text>
<text transform="translate(64.5,526.8) scale(0.9604,1)" font-size="10.3" fill="#6d7572" stroke="#6d7572" stroke-width="0.12" text-anchor="start" font-family='"Liberation Sans", sans-serif'>K1</text>
<text transform="translate(79.1,526.8) scale(1.0210,1)" font-size="10.3" fill="#6a726f" stroke="#6a726f" stroke-width="0.12" text-anchor="start" font-family='"Liberation Sans", sans-serif'>are</text>
<text transform="translate(96.1,526.8) scale(0.9322,1)" font-size="10.3" fill="#656d6a" stroke="#656d6a" stroke-width="0.12" text-anchor="start" font-family='"Liberation Sans", sans-serif'>added</text>
<text transform="translate(124.9,526.8) scale(0.9750,1)" font-size="10.3" fill="#5d6462" stroke="#5d6462" stroke-width="0.12" text-anchor="start" font-family='"Liberation Sans", sans-serif'>here</text>
<text transform="translate(147.7,526.8) scale(0.9578,1)" font-size="10.3" fill="#505654" stroke="#505654" stroke-width="0.12" text-anchor="start" font-family='"Liberation Sans", sans-serif'>because</text>
<text transform="translate(186.8,526.8) scale(1.0338,1)" font-size="10.3" fill="#3c4140" stroke="#3c4140" stroke-width="0.12" text-anchor="start" font-family='"Liberation Sans", sans-serif'>Shanghai</text>
<text transform="translate(234.2,526.8) scale(1.0483,1)" font-size="10.3" fill="#333737" stroke="#333737" stroke-width="0.12" text-anchor="start" font-family='"Liberation Sans", sans-serif'>NO.2</text>
<text transform="translate(261.2,526.8) scale(1.0416,1)" font-size="10.3" fill="#313434" stroke="#313434" stroke-width="0.12" text-anchor="start" font-family='"Liberation Sans", sans-serif'>Textile</text>
<text transform="translate(296.8,526.8) scale(1.0523,1)" font-size="10.3" fill="#2e3131" stroke="#2e3131" stroke-width="0.12" text-anchor="start" font-family='"Liberation Sans", sans-serif'>Machinery</text>
<text transform="translate(349.7,526.8) scale(1.0396,1)" font-size="10.3" fill="#2c2e2e" stroke="#2c2e2e" stroke-width="0.12" text-anchor="start" font-family='"Liberation Sans", sans-serif'>Factory</text>
<text transform="translate(388.4,526.8) scale(1.0580,1)" font-size="10.3" fill="#2b2d2d" stroke="#2b2d2d" stroke-width="0.12" text-anchor="start" font-family='"Liberation Sans", sans-serif'>requires.</text>
</svg>
</body></html>
